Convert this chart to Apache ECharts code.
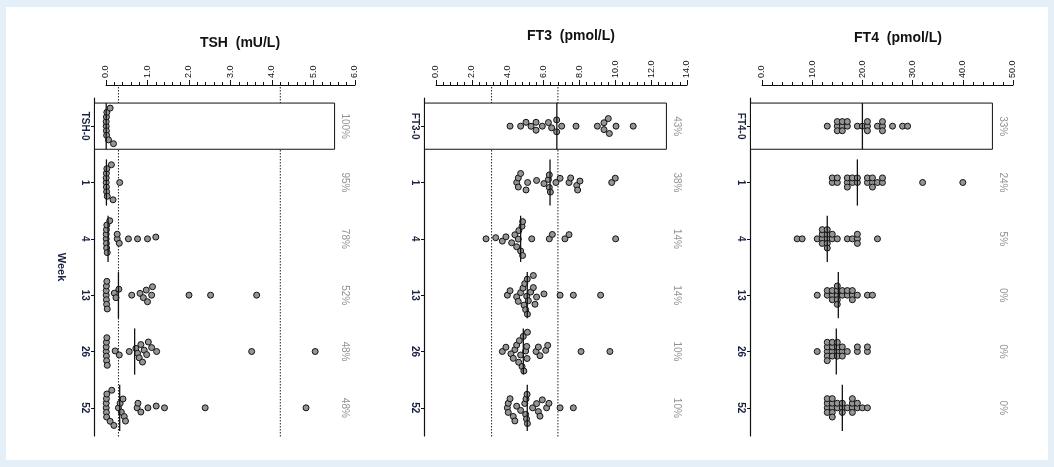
<!DOCTYPE html>
<html>
<head>
<meta charset="utf-8">
<script src="https://cdn.jsdelivr.net/npm/echarts@6/dist/echarts.min.js"></script>
<style>
  html, body { margin: 0; padding: 0; background: #e4eff8; }
  #frame { position: absolute; left: 6px; top: 7px; width: 1042px; height: 453px; background: #fff; }
  #chart { position: absolute; left: 0; top: 0; width: 1054px; height: 467px; }
</style>
</head>
<body>
<div id="frame"></div>
<div id="chart"></div>
<script>
// panel titles / axes
const titles = ['TSH  (mU/L)', 'FT3  (pmol/L)', 'FT4  (pmol/L)'];
const tshWeeks = ['TSH-0', '1', '4', '13', '26', '52'];
const ft3Weeks = ['FT3-0', '1', '4', '13', '26', '52'];
const ft4Weeks = ['FT4-0', '1', '4', '13', '26', '52'];
const axisMax = [6, 14, 50];
const axisStep = [1, 2, 10];
const refRanges = [[0.3, 4.2], [3.1, 6.8], []];

// measured values per week (baseline, 1, 4, 13, 26, 52)
const tshValues = [
  [0.005, 0.005, 0.01, 0.01, 0.015, 0.02, 0.06, 0.1, 0.18],
  [0.005, 0.005, 0.01, 0.01, 0.015, 0.02, 0.03, 0.13, 0.17, 0.33],
  [0.005, 0.005, 0.01, 0.01, 0.015, 0.02, 0.03, 0.09, 0.27, 0.27, 0.32, 0.54, 0.76, 1.0, 1.2],
  [0.005, 0.005, 0.01, 0.01, 0.015, 0.02, 0.03, 0.2, 0.24, 0.31, 0.62, 0.82, 0.9, 0.97, 1.0, 1.1, 1.12, 2.0, 2.52, 3.63],
  [0.005, 0.005, 0.01, 0.01, 0.015, 0.02, 0.03, 0.22, 0.32, 0.56, 0.72, 0.76, 0.8, 0.84, 0.88, 0.92, 0.98, 1.02, 1.1, 1.22, 3.51, 5.04],
  [0.005, 0.005, 0.01, 0.01, 0.015, 0.02, 0.1, 0.14, 0.19, 0.3, 0.34, 0.37, 0.41, 0.44, 0.47, 0.75, 0.77, 0.84, 1.01, 1.21, 1.41, 2.39, 4.82]
];
const ft3Values = [
  [4.13, 4.72, 5.02, 5.3, 5.58, 5.58, 5.93, 6.27, 6.45, 6.73, 6.73, 7.01, 7.81, 9.0, 9.37, 9.37, 9.61, 9.67, 10.04, 11.0],
  [4.5, 4.59, 4.59, 4.72, 5.02, 5.11, 5.61, 6.02, 6.27, 6.32, 6.32, 6.38, 6.69, 6.92, 7.42, 7.51, 7.85, 7.9, 8.03, 9.8, 10.0],
  [2.79, 3.33, 3.7, 3.9, 4.22, 4.4, 4.5, 4.59, 4.62, 4.72, 4.8, 4.83, 4.83, 5.34, 6.32, 6.49, 7.19, 7.42, 10.02],
  [3.98, 4.13, 4.5, 4.59, 4.72, 4.85, 4.91, 4.95, 5.0, 5.06, 5.09, 5.1, 5.15, 5.28, 5.43, 5.43, 5.52, 5.61, 6.02, 6.92, 7.66, 9.18],
  [3.7, 3.9, 4.18, 4.31, 4.4, 4.5, 4.61, 4.65, 4.72, 4.8, 4.87, 4.9, 5.0, 5.06, 5.08, 5.1, 5.58, 5.71, 5.8, 6.12, 6.23, 8.09, 9.7],
  [3.98, 4.03, 4.03, 4.13, 4.31, 4.4, 4.5, 4.72, 4.95, 5.0, 5.02, 5.05, 5.08, 5.1, 5.39, 5.61, 5.71, 5.8, 5.93, 6.17, 6.3, 6.92, 7.66]
];
const ft4Values = [
  [13, 15, 15, 15, 16, 16, 16, 17, 17, 19, 20, 21, 21, 21, 23, 24, 24, 24, 26, 28, 29],
  [14, 14, 15, 15, 17, 17, 17, 18, 18, 19, 19, 21, 21, 22, 22, 22, 23, 24, 24, 32, 40],
  [7, 8, 11, 12, 12, 12, 12, 13, 13, 13, 13, 13, 14, 14, 15, 17, 18, 19, 19, 19, 23],
  [11, 13, 13, 14, 14, 14, 15, 15, 15, 15, 15, 16, 16, 17, 17, 18, 18, 18, 19, 21, 22],
  [11, 13, 13, 13, 13, 13, 14, 14, 14, 14, 15, 15, 15, 15, 16, 16, 16, 17, 19, 19, 21, 21],
  [13, 13, 13, 13, 14, 14, 14, 14, 14, 15, 15, 16, 16, 16, 17, 18, 18, 18, 18, 19, 19, 20, 21]
];

const tshMedians = [0.005, 0.01, 0.05, 0.3, 0.69, 0.33];
const ft3Medians = [6.74, 6.36, 4.72, 5.09, 4.87, 5.09];
const ft4Medians = [20, 19, 13, 15.2, 14.8, 16];

const tshPercents = ['100%', '95%', '78%', '52%', '48%', '48%'];
const ft3Percents = ['43%', '38%', '14%', '14%', '10%', '10%'];
const ft4Percents = ['33%', '24%', '5%', '0%', '0%', '0%'];

const weeks = [tshWeeks, ft3Weeks, ft4Weeks];
const values = [tshValues, ft3Values, ft4Values];
const medians = [tshMedians, ft3Medians, ft4Medians];
const percents = [tshPercents, ft3Percents, ft4Percents];

// layout
const gridLeft = [106, 436, 762];
const gridWidth = [249, 251, 251];
const gridTop = 98, gridHeight = 338;
const catPx = gridHeight / 6;
const boxFrac = 0.918;       // frame / percent column position along the axis
const swarmDx = [9, 10, 4.9]; // horizontal reach of a dot, px
const swarmDy = 4.6;          // vertical step, px
const font = 'Liberation Sans, Arial, sans-serif';

// beeswarm: vertical offsets (px) so dots don't pile up
function swarm(vals, pxPerUnit, dx) {
  const order = vals.map((v, i) => i).sort((a, b) => vals[a] - vals[b]);
  const placed = [];
  const offs = new Array(vals.length);
  order.forEach(i => {
    const x = vals[i] * pxPerUnit;
    const near = placed.filter(p => Math.abs(p.x - x) < dx);
    const cands = [0];
    near.forEach(p => {
      const t = (p.x - x) / dx;
      const h = swarmDy * Math.sqrt(1 - t * t);
      cands.push(p.y + h, p.y - h);
    });
    cands.sort((a, b) => Math.abs(a) - Math.abs(b) || a - b);
    const y = cands.find(c => near.every(p => {
      const tx = (p.x - x) / dx, ty = (p.y - c) / swarmDy;
      return tx * tx + ty * ty >= 1 - 1e-6;
    }));
    placed.push({ x: x, y: y });
    offs[i] = y;
  });
  return offs;
}

const chart = echarts.init(document.getElementById('chart'));

const grid = [], xAxis = [], yAxis = [], series = [], title = [];
const titleTop = [31, 24, 26];
const titleX = [235, 566, 893];

for (let p = 0; p < 3; p++) {
  const valAxis = p * 2 + 1;
  const pxPerUnit = gridWidth[p] / axisMax[p];

  grid.push({ left: gridLeft[p], top: gridTop, width: gridWidth[p], height: gridHeight });
  title.push({
    text: titles[p], left: titleX[p], top: titleTop[p], textAlign: 'center',
    textStyle: { fontSize: 14, fontWeight: 'bold', color: '#111', fontFamily: font }
  });
  xAxis.push({
    gridIndex: p, type: 'value', position: 'top', offset: 13,
    min: 0, max: axisMax[p], interval: axisStep[p],
    axisLine: { show: true, onZero: false, lineStyle: { color: '#111', width: 1 } },
    axisTick: { show: true, length: 5, lineStyle: { color: '#111' } },
    minorTick: { show: true, splitNumber: 5, length: 3, lineStyle: { color: '#111' } },
    splitLine: { show: false },
    axisLabel: {
      rotate: -90, fontSize: 9, color: '#111', margin: 7, fontFamily: font,
      formatter: v => v.toFixed(1)
    }
  });
  yAxis.push({
    gridIndex: p, type: 'category', data: weeks[p], inverse: true, offset: 12,
    axisLine: { show: true, onZero: false, lineStyle: { color: '#111', width: 1.2 } },
    axisTick: { show: true, alignWithLabel: true, length: 3, lineStyle: { color: '#111' } },
    axisLabel: { rotate: -90, fontSize: 10, fontWeight: 'bold', color: '#1a2240', margin: 4, fontFamily: font },
    name: p === 0 ? 'Week' : '', nameLocation: 'middle', nameRotate: -90, nameGap: 27,
    nameTextStyle: { fontSize: 11, fontWeight: 'bold', color: '#1a2240', fontFamily: font }
  });
  yAxis.push({ gridIndex: p, type: 'value', min: -0.5, max: 5.5, inverse: true, show: false });

  // reference range, dotted
  series.push({
    type: 'custom', xAxisIndex: p, yAxisIndex: valAxis, z: 1, silent: true,
    data: refRanges[p].map(v => [v]),
    renderItem: (params, api) => {
      const top = api.coord([api.value(0), -0.5]);
      const bot = api.coord([api.value(0), 5.5]);
      return {
        type: 'line',
        shape: { x1: top[0], y1: top[1] - 11, x2: bot[0], y2: bot[1] + 1 },
        style: { stroke: '#222', lineWidth: 1, lineDash: [1.5, 1.5] }
      };
    }
  });

  // frame around the baseline group
  series.push({
    type: 'custom', xAxisIndex: p, yAxisIndex: valAxis, z: 2, silent: true,
    data: [[0, 0]],
    renderItem: (params, api) => {
      const c = api.coord([0, 0]);
      const size = api.size([axisMax[p], 1]);
      const half = size[1] * 0.41;
      return {
        type: 'rect',
        shape: { x: c[0] - 11.5, y: c[1] - half, width: size[0] * boxFrac + 11.5, height: half * 2 },
        style: { fill: '#fff', stroke: '#111', lineWidth: 1 }
      };
    }
  });

  // dots
  const dots = [];
  values[p].forEach((vals, w) => {
    const offs = swarm(vals, pxPerUnit, swarmDx[p]);
    vals.forEach((v, i) => dots.push([v, w + offs[i] / catPx]));
  });
  series.push({
    type: 'scatter', xAxisIndex: p, yAxisIndex: valAxis, z: 3, silent: true,
    symbol: 'circle', symbolSize: 6,
    itemStyle: { color: '#959595', borderColor: '#111', borderWidth: 1, opacity: 1 },
    data: dots
  });

  // median lines
  series.push({
    type: 'custom', xAxisIndex: p, yAxisIndex: valAxis, z: 4, silent: true,
    data: medians[p].map((m, w) => [m, w]),
    renderItem: (params, api) => {
      const c = api.coord([api.value(0), api.value(1)]);
      const half = api.size([0, 1])[1] * 0.41;
      return {
        type: 'line',
        shape: { x1: c[0], y1: c[1] - half, x2: c[0], y2: c[1] + half },
        style: { stroke: '#111', lineWidth: 1.3 }
      };
    }
  });

  // percent column on the right
  const pctX = axisMax[p] * boxFrac + 10 / pxPerUnit;
  series.push({
    type: 'scatter', xAxisIndex: p, yAxisIndex: valAxis, z: 5, silent: true,
    symbolSize: 1, itemStyle: { color: 'rgba(0,0,0,0)' },
    data: percents[p].map((t, w) => [pctX, w]),
    label: {
      show: true, position: 'inside', rotate: -90,
      formatter: params => percents[p][params.dataIndex],
      color: '#777', fontSize: 10, fontFamily: font
    }
  });
}

chart.setOption({
  animation: false,
  backgroundColor: 'transparent',
  title: title,
  grid: grid,
  xAxis: xAxis,
  yAxis: yAxis,
  series: series
});
</script>
</body>
</html>
